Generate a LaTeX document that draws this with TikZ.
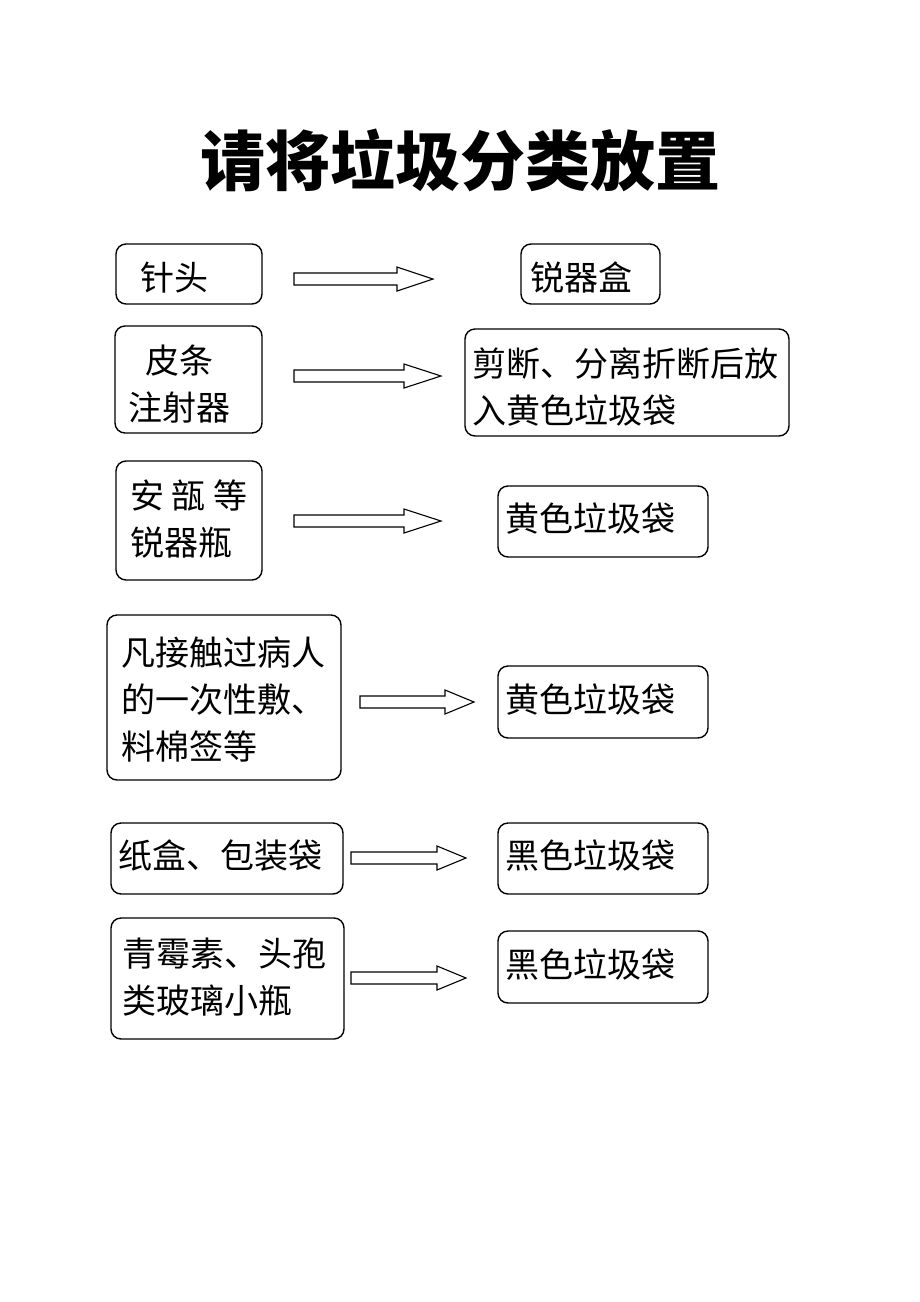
\documentclass[tikz,border=0pt]{standalone}
\usepackage{fontspec}
\setmainfont{Noto Sans CJK SC}
\begin{document}
\begin{tikzpicture}[x=1pt,y=-1pt,
  boxst/.style={draw=black, line width=1.4pt, rounded corners=10pt, inner sep=0pt, outer sep=0pt},
  txt/.style={anchor=west, inner sep=0pt, outer sep=0pt, align=left, font=\fontsize{34}{47}\selectfont},
  arr/.style={draw=black, line width=1.1pt, fill=white, line join=miter}]
\fill[white] (0,0) rectangle (920,1302);
\useasboundingbox (0,0) rectangle (920,1302);
\newcommand{\boxnode}[5]{\node[boxst, minimum width={(#4-#2)*1pt}, minimum height={(#5-#3)*1pt}] (#1) at ({(#2+#4)/2},{(#3+#5)/2}) {};}
\newcommand{\blockarr}[4]{\draw[arr] (#1,#4-6) -- (#2,#4-6) -- (#2,#4-12) -- (#3,#4) -- (#2,#4+12) -- (#2,#4+6) -- (#1,#4+6) -- cycle;}
% title
\node[inner sep=0pt, font=\fontsize{65}{70}\selectfont\bfseries] (title) at (460,160) {请将垃圾分类放置};
% boxes
\boxnode{b1}{116}{244}{262}{304}
\boxnode{r1}{521}{244}{660}{304}
\boxnode{b2}{115}{326}{262}{433}
\boxnode{r2}{465}{329}{789}{436}
\boxnode{b3}{116}{461}{262}{580}
\boxnode{r3}{498}{486}{708}{557}
\boxnode{b4}{107}{615}{341}{780}
\boxnode{r4}{498}{666}{708}{738}
\boxnode{b5}{111}{823}{343}{894}
\boxnode{r5}{498}{823}{708}{894}
\boxnode{b6}{111}{918}{344}{1039}
\boxnode{r6}{498}{931}{708}{1003}
% texts
\node[txt] (t1) at (140,278) {针头};
\node[txt] (u1) at (530,278) {锐器盒};
\node[txt] (t2) at (128,384) {\hspace*{17pt}皮条\\注射器};
\node[txt] (u2) at (472,387) {剪断、分离折断后放\\入黄色垃圾袋};
\node[txt] (t3) at (130,519) {安\ 瓿\ 等\\锐器瓶};
\node[txt] (u3) at (505,519) {黄色垃圾袋};
\node[txt] (t4) at (121,700) {凡接触过病人\\的一次性敷、\\料棉签等};
\node[txt] (u4) at (505,700) {黄色垃圾袋};
\node[txt] (t5) at (118,856) {纸盒、包装袋};
\node[txt] (u5) at (505,856) {黑色垃圾袋};
\node[txt] (t6) at (122,977) {青霉素、头孢\\类玻璃小瓶};
\node[txt] (u6) at (505,965) {黑色垃圾袋};
% block arrows
\blockarr{294}{397}{433}{279}
\blockarr{294}{404}{441}{376}
\blockarr{294}{404}{441}{521}
\blockarr{360}{445}{474}{702}
\blockarr{351}{437}{466}{858}
\blockarr{351}{437}{466}{978}
\end{tikzpicture}
\end{document}
